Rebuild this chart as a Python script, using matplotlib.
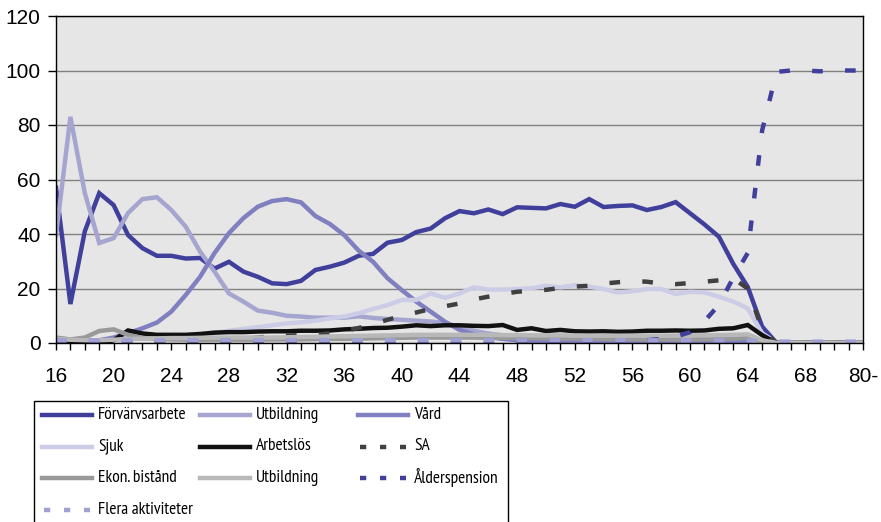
import matplotlib.pyplot as plt
from matplotlib.lines import Line2D
from matplotlib.patches import Rectangle

# age categories (every 4th one is labelled)
ages = [str(a) for a in range(16, 72)] + ["80-"]

forvarvsarbete = [57, 14.3, 41, 55, 50.6, 39.6, 34.8, 32, 32, 31, 31.2, 27.3, 29.8, 26.2, 24.3, 21.9,
                  21.6, 22.8, 26.8, 28, 29.5, 32, 32.7, 36.8, 37.8, 40.7, 42, 45.8, 48.4, 47.6, 49, 47.3,
                  49.8, 49.6, 49.4, 51, 50, 52.8, 49.9, 50.3, 50.5, 48.8, 49.9, 51.7, 47.6, 43.5, 39, 29,
                  20.6, 6, 0, 0, 0, 0, 0, 0, 0]
utbildning = [39.6, 83, 55, 36.7, 38.5, 47.7, 52.8, 53.5, 48.8, 42.7, 33.5, 26.2, 18.2, 15.2, 11.9, 11.1,
              10, 9.7, 9.3, 9.3, 9.3, 9.8, 9.2, 8.8, 8.5, 8.2, 7.9, 7.3, 6, 4.5, 3.5, 2.8,
              2.3, 2, 2, 1.8, 1.8, 1.6, 1.5, 1.5, 1.4, 1.3, 1.2, 1.2, 1, 1, 1, 0.9,
              0.8, 0.3, 0, 0, 0, 0, 0, 0, 0]
vard = [0, 0, 0.3, 1, 2, 3.6, 5.4, 7.5, 11.5, 17.6, 24.3, 33, 40.3, 45.8, 50, 52.1,
        52.8, 51.6, 46.6, 43.7, 39.6, 33.9, 29.8, 23.8, 19.4, 15.2, 11.5, 7.8, 4.8, 3.2, 2.2, 1.5,
        1, 0.8, 0.6, 0.5, 0.5, 0.5, 0.5, 0.5, 0.5, 0.5, 0.5, 0.5, 0.5, 0.5, 0.5, 0.5,
        0.5, 0.2, 0, 0, 0, 0, 0, 0, 0]
sjuk = [0.3, 0.3, 0.5, 0.7, 1, 1.3, 1.7, 2, 2.4, 2.8, 3.3, 3.8, 4.5, 5.2, 5.8, 6.5,
        7.2, 7.6, 8.2, 9, 9.7, 10.9, 12.5, 13.9, 15.8, 15.8, 18.2, 16.6, 18.2, 20.4, 19.6, 19.6,
        19.8, 20.1, 21, 20.4, 21.2, 20.7, 19.8, 18.5, 19, 19.8, 19.8, 18, 18.8, 18.5, 17, 15.2,
        12.7, 3.6, 0, 0, 0, 0, 0, 0, 0]
arbetslos = [0, 0, 0, 0, 1, 4.6, 3.5, 3, 3, 3, 3.3, 3.8, 4, 4, 4.2, 4.3,
             4.3, 4.5, 4.5, 4.6, 5, 5.2, 5.5, 5.6, 6, 6.5, 6.2, 6.5, 6.5, 6.3, 6.2, 6.6,
             4.8, 5.4, 4.4, 4.8, 4.3, 4.2, 4.3, 4.1, 4.2, 4.5, 4.5, 4.6, 4.5, 4.6, 5.2, 5.4,
             6.6, 2.9, 0, 0, 0, 0, 0, 0, 0]
sa = [0, 0, 0, 0, 0.5, 1, 1, 1, 1.2, 1.3, 1.5, 1.8, 1.6, 1.5, 2, 2.5,
      2.7, 2.9, 3, 3.6, 4.5, 5.5, 7, 8.5, 10, 11.2, 12.5, 13.5, 14.5, 16, 17, 18,
      18.8, 19.2, 19.5, 20.2, 20.7, 21, 21.8, 22.3, 22.7, 22.5, 21.8, 21.6, 22, 22.5, 23, 23.7,
      20, 5, 0, 0, 0, 0, 0, 0, 0]
ekon_bistand = [2, 1.3, 2, 4.4, 5, 3, 1.8, 1.5, 1.3, 1.2, 1.2, 1.2, 1.2, 1.2, 1.2, 1.3,
                1.3, 1.3, 1.4, 1.5, 1.5, 1.6, 1.7, 1.8, 1.9, 2, 2, 2, 2, 2, 1.9, 1.9,
                1.8, 1.8, 1.7, 1.6, 1.6, 1.5, 1.5, 1.4, 1.4, 1.3, 1.3, 1.3, 1.3, 1.4, 1.5, 1.6,
                1.8, 0.5, 0, 0, 0, 0, 0, 0, 0]
utbildning2 = [1.5, 1.2, 1, 1, 1.2, 1.5, 1.6, 1.7, 1.8, 1.8, 1.9, 2, 2, 2, 2, 2,
               2.1, 2.2, 2.3, 2.4, 2.5, 2.6, 2.7, 2.8, 2.9, 3, 3, 3, 3, 3, 3, 2.9,
               2.9, 2.8, 2.8, 2.8, 2.7, 2.7, 2.7, 2.7, 2.7, 2.7, 2.7, 2.7, 2.8, 2.8, 2.9, 3,
               3.2, 1, 0, 0, 0, 0, 0, 0, 0]
alderspension = [0, 0, 0, 0, 0, 0, 0, 0, 0, 0, 0, 0, 0, 0, 0, 0,
                 0, 0, 0, 0, 0, 0, 0, 0, 0, 0, 0, 0, 0, 0, 0, 0,
                 0, 0, 0, 0, 0, 0, 0, 0, 0.5, 1, 1.5, 2.3, 4, 8, 14, 24,
                 33, 78, 99.5, 100, 100, 99.7, 100, 100, 100]
flera_aktiviteter = [1] * 49 + [0.5] * 8

# name, values, colour, dashed?
series = [
    ("Förvärvsarbete", forvarvsarbete, "#40409C", False),
    ("Utbildning", utbildning, "#A5A5D0", False),
    ("Vård", vard, "#8080C0", False),
    ("Sjuk", sjuk, "#CCCCE6", False),
    ("Arbetslös", arbetslos, "#111111", False),
    ("SA", sa, "#404040", True),
    ("Ekon. bistånd", ekon_bistand, "#999999", False),
    ("Utbildning", utbildning2, "#B8B8B8", False),
    ("Ålderspension", alderspension, "#40409C", True),
    ("Flera aktiviteter", flera_aktiviteter, "#A0A0D2", True),
]

W, H = 881, 522
fig = plt.figure(figsize=(W / 100, H / 100), dpi=100)
ax = fig.add_axes([56 / W, 1 - 343 / H, (863 - 56) / W, (343 - 16) / H])
ax.set_facecolor("#E6E6E6")

x = list(range(len(ages)))
for name, vals, col, dashed in series:
    ls = (0, (2.4, 5.0)) if dashed else "-"
    ax.plot(x, vals, color=col, lw=3.2, ls=ls, solid_joinstyle="miter")

ax.set_xlim(0, len(ages) - 1)
ax.set_ylim(0, 120)
ax.set_yticks(range(0, 121, 20))
ax.set_xticks(x)
ax.set_xticklabels([a if i % 4 == 0 else "" for i, a in enumerate(ages)])
ax.yaxis.grid(True, color="#808080", lw=1)
ax.set_axisbelow(True)
for s in ax.spines.values():
    s.set_color("black")
    s.set_linewidth(1)

for lab in ax.get_xticklabels() + ax.get_yticklabels():
    lab.set_fontfamily(["Liberation Sans", "DejaVu Sans"])
    lab.set_fontsize(15)
ax.tick_params(axis="x", direction="out", length=5, width=1, pad=12)
ax.tick_params(axis="y", direction="out", length=6, width=1, pad=5)

# legend drawn by hand so the three columns get Excel's equal widths
fig.add_artist(Rectangle((34 / W, -0.05), (508 - 34) / W, 1 - 401 / H + 0.05,
                         transform=fig.transFigure, facecolor="white",
                         edgecolor="black", lw=1))
col_x = [42, 200, 358]
legend_font = ["PT Sans Narrow", "Archivo Narrow", "Liberation Sans", "DejaVu Sans"]
for i, (name, vals, col, dashed) in enumerate(series):
    x0 = col_x[i % 3]
    yy = 1 - (415 + 31.5 * (i // 3)) / H
    if dashed:
        h = Line2D([(x0 + 2) / W, (x0 + 48) / W], [yy, yy], color=col, lw=3.2,
                   ls=(0, (1.4, 3.1)), transform=fig.transFigure)
    else:
        h = Line2D([x0 / W, (x0 + 50) / W], [yy, yy], color=col, lw=3.2,
                   transform=fig.transFigure)
    fig.add_artist(h)
    fig.text((x0 + 56) / W, yy, name, va="center", ha="left", fontsize=12.5,
             family=legend_font)

fig.savefig("out.png", dpi=100)
